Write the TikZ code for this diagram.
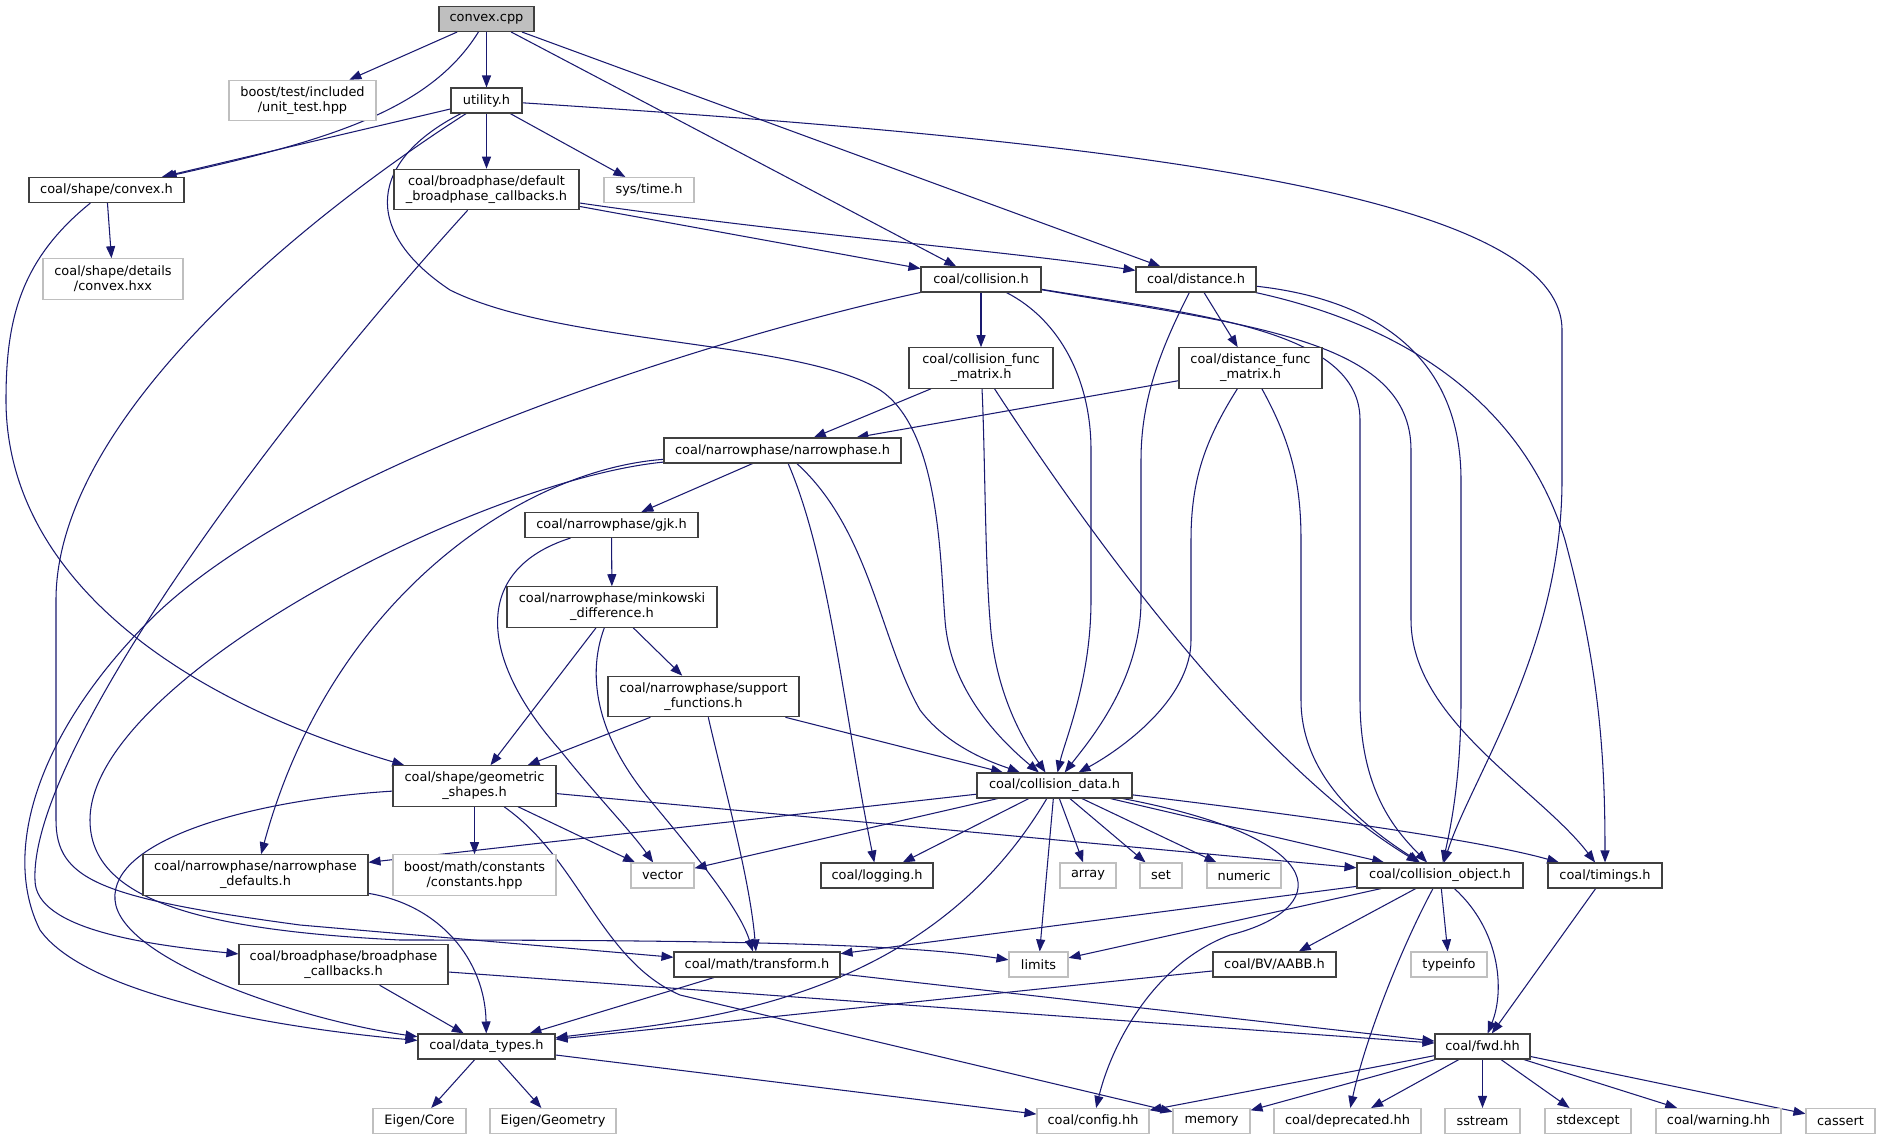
\documentclass[tikz,border=0pt]{standalone}
\usepackage{fontspec}
\setmainfont{DejaVu Sans}
\usepackage{tikz}
\usetikzlibrary{arrows.meta}
\pgfdeclarelayer{canvas}
\pgfdeclarelayer{edges}
\pgfsetlayers{canvas,edges,main}
\definecolor{edgeblue}{HTML}{191970}
\definecolor{boxline}{HTML}{404040}
\definecolor{sysline}{HTML}{BFBFBF}
\definecolor{rootfill}{HTML}{BFBFBF}
\tikzset{
  box/.style={draw=boxline, fill=white, line width=0.6pt, inner sep=0pt, align=center,
    minimum height=5mm, font=\fontsize{7.35}{8.5}\selectfont},
  sysbox/.style={box, draw=sysline},
  rootbox/.style={box, fill=rootfill},
  tall/.style={minimum height=8.1mm},
  bw/.style={minimum width=#1*0.2mm},
  dep/.style={draw=edgeblue, line width=0.6pt, ->}
}

\begin{document}
\begin{tikzpicture}[x=0.2mm, y=-0.2mm, >={Triangle[length=2.4mm,width=1.8mm]}]
\begin{pgfonlayer}{canvas}
\fill[white] (0,0) rectangle (1880,1140);
\end{pgfonlayer}
\useasboundingbox (0,0) rectangle (1880,1140);

\node[rootbox, bw=95] (cpp) at (486.5,19) {convex.cpp};
\node[sysbox, tall, bw=147] (unittest) at (302.5,100.5) {boost/test/included\\/unit\_test.hpp};
\node[box, bw=71] (utility) at (486.5,100.5) {utility.h};
\node[box, bw=155] (convexh) at (106.5,190) {coal/shape/convex.h};
\node[box, tall, bw=185] (defbpcb) at (486.5,189.5) {coal/broadphase/default\\\_broadphase\_callbacks.h};
\node[sysbox, bw=90] (systime) at (649,190) {sys/time.h};
\node[sysbox, tall, bw=140] (convexhxx) at (113,279) {coal/shape/details\\/convex.hxx};
\node[box, bw=120] (collision) at (981,279.5) {coal/collision.h};
\node[box, bw=120] (distance) at (1196,279.5) {coal/distance.h};
\node[box, tall, bw=144] (colfm) at (981,368) {coal/collision\_func\\\_matrix.h};
\node[box, tall, bw=143] (disfm) at (1250.5,368) {coal/distance\_func\\\_matrix.h};
\node[box, bw=237] (narrow) at (782.5,450.5) {coal/narrowphase/narrowphase.h};
\node[box, bw=173] (gjk) at (611.5,525) {coal/narrowphase/gjk.h};
\node[box, tall, bw=210] (mink) at (612,607) {coal/narrowphase/minkowski\\\_difference.h};
\node[box, tall, bw=191] (support) at (703.5,696.5) {coal/narrowphase/support\\\_functions.h};
\node[box, tall, bw=163] (geom) at (474.5,786) {coal/shape/geometric\\\_shapes.h};
\node[box, bw=155] (coldata) at (1054.5,785.5) {coal/collision\_data.h};
\node[box, tall, bw=225] (npdef) at (255.5,875) {coal/narrowphase/narrowphase\\\_defaults.h};
\node[sysbox, tall, bw=163] (constants) at (474.5,875) {boost/math/constants\\/constants.hpp};
\node[sysbox, bw=63] (vector) at (662.5,875.5) {vector};
\node[box, bw=112] (logging) at (877,875.5) {coal/logging.h};
\node[sysbox, bw=56] (array) at (1088,875.5) {array};
\node[sysbox, bw=42] (set) at (1161,875.5) {set};
\node[sysbox, bw=74] (numeric) at (1244,875.5) {numeric};
\node[box, bw=166] (colobj) at (1440,875.5) {coal/collision\_object.h};
\node[box, bw=114] (timings) at (1605,875.5) {coal/timings.h};
\node[box, tall, bw=209] (bpcb) at (343.5,964.5) {coal/broadphase/broadphase\\\_callbacks.h};
\node[box, bw=166] (transform) at (757,964.5) {coal/math/transform.h};
\node[sysbox, bw=59] (limits) at (1038.5,964.5) {limits};
\node[box, bw=123] (aabb) at (1274.5,964.5) {coal/BV/AABB.h};
\node[sysbox, bw=76] (typeinfo) at (1449,964.5) {typeinfo};
\node[box, bw=137] (datatypes) at (486.5,1046.5) {coal/data\_types.h};
\node[box, bw=95] (fwd) at (1482.5,1046.5) {coal/fwd.hh};
\node[sysbox, bw=93] (eigencore) at (419.5,1121) {Eigen/Core};
\node[sysbox, bw=126] (eigengeom) at (553,1121) {Eigen/Geometry};
\node[sysbox, bw=112] (config) at (1093,1121) {coal/config.hh};
\node[sysbox, bw=77] (memory) at (1211.5,1121) {memory};
\node[sysbox, bw=147] (deprecated) at (1347.5,1121) {coal/deprecated.hh};
\node[sysbox, bw=75] (sstream) at (1482.5,1121) {sstream};
\node[sysbox, bw=86] (stdexcept) at (1588,1121) {stdexcept};
\node[sysbox, bw=125] (warning) at (1718.5,1121) {coal/warning.hh};
\node[sysbox, bw=69] (cassert) at (1840.5,1121) {cassert};

\begin{pgfonlayer}{edges}
\draw[dep] (cpp) -- (unittest);
\draw[dep] (cpp) -- (utility);
\draw[dep] (cpp) .. controls (430,110) and (330,140) .. (convexh);
\draw[dep] (cpp) -- (collision);
\draw[dep] (cpp) -- (distance);
\draw[dep] (utility) -- (convexh);
\draw[dep] (utility) -- (defbpcb);
\draw[dep] (utility) -- (systime);
\draw[dep] (utility) .. controls (1100,140) and (1562,190) .. (1562,330) -- (1562,480) .. controls (1562,650) and (1470,780) .. (colobj);
\draw[dep] (utility) .. controls (370,160) and (360,230) .. (450,290) .. controls (560,345) and (800,340) .. (880,390) .. controls (940,430) and (940,560) .. (945,620) .. controls (950,690) and (1000,740) .. (coldata);
\draw[dep] (utility) .. controls (300,220) and (56,420) .. (56,600) -- (56,820) .. controls (56,880) and (100,898) .. (300,925) -- (transform);
\draw[dep] (convexh) -- (convexhxx);
\draw[dep] (convexh) .. controls (20,260) and (6,320) .. (6,400) .. controls (6,560) and (150,690) .. (geom);
\draw[dep] (defbpcb) -- (collision);
\draw[dep] (defbpcb) .. controls (800,235) and (1000,250) .. (distance);
\draw[dep] (defbpcb) .. controls (250,450) and (30,760) .. (35,880) .. controls (35,930) and (150,945) .. (bpcb);
\draw[dep] (collision) -- (colfm);
\draw[dep] (collision) .. controls (700,340) and (300,470) .. (150,620) .. controls (40,730) and (0,850) .. (40,930) .. controls (90,1000) and (300,1030) .. (datatypes);
\draw[dep] (collision) .. controls (1060,320) and (1091,380) .. (1091,450) -- (1091,600) .. controls (1091,680) and (1065,740) .. (coldata);
\draw[dep] (collision) .. controls (1200,315) and (1360,330) .. (1360,420) -- (1360,700) .. controls (1360,790) and (1395,830) .. (colobj);
\draw[dep] (collision) .. controls (1250,325) and (1411,340) .. (1411,450) -- (1411,620) .. controls (1411,720) and (1540,790) .. (timings);
\draw[dep] (distance) -- (disfm);
\draw[dep] (distance) .. controls (1160,350) and (1141,400) .. (1141,460) -- (1141,600) .. controls (1141,680) and (1090,740) .. (coldata);
\draw[dep] (distance) .. controls (1380,300) and (1461,360) .. (1461,480) -- (1461,700) .. controls (1461,780) and (1450,830) .. (colobj);
\draw[dep] (distance) .. controls (1450,335) and (1535,440) .. (1565,540) .. controls (1600,670) and (1605,760) .. (timings);
\draw[dep] (colfm) -- (narrow);
\draw[dep] (colfm) .. controls (985,450) and (985,560) .. (990,620) .. controls (995,700) and (1030,750) .. (coldata);
\draw[dep] (colfm) .. controls (1080,520) and (1250,760) .. (colobj);
\draw[dep] (disfm) -- (narrow);
\draw[dep] (disfm) .. controls (1205,440) and (1191,480) .. (1191,540) -- (1191,640) .. controls (1191,700) and (1120,750) .. (coldata);
\draw[dep] (disfm) .. controls (1290,440) and (1301,480) .. (1301,540) -- (1301,700) .. controls (1301,780) and (1370,830) .. (colobj);
\draw[dep] (narrow) -- (gjk);
\draw[dep] (narrow) .. controls (520,470) and (330,600) .. (npdef);
\draw[dep] (narrow) .. controls (480,480) and (90,680) .. (90,820) .. controls (90,900) and (200,930) .. (400,940) .. controls (700,940) and (900,943) .. (limits);
\draw[dep] (narrow) .. controls (830,560) and (845,720) .. (logging);
\draw[dep] (narrow) .. controls (870,530) and (880,640) .. (920,710) .. controls (950,750) and (1000,765) .. (coldata);
\draw[dep] (gjk) -- (mink);
\draw[dep] (gjk) .. controls (470,570) and (480,660) .. (560,750) .. controls (600,800) and (630,830) .. (vector);
\draw[dep] (mink) -- (geom);
\draw[dep] (mink) .. controls (585,680) and (600,740) .. (650,800) .. controls (700,860) and (740,910) .. (transform);
\draw[dep] (mink) -- (support);
\draw[dep] (support) -- (geom);
\draw[dep] (support) .. controls (725,790) and (750,880) .. (transform);
\draw[dep] (support) -- (coldata);
\draw[dep] (geom) .. controls (250,800) and (110,840) .. (115,900) .. controls (120,960) and (300,1020) .. (datatypes);
\draw[dep] (geom) -- (constants);
\draw[dep] (geom) -- (vector);
\draw[dep] (geom) .. controls (580,860) and (600,960) .. (680,995) -- (memory);
\draw[dep] (geom) -- (colobj);
\draw[dep] (coldata) -- (npdef);
\draw[dep] (coldata) -- (vector);
\draw[dep] (coldata) -- (logging);
\draw[dep] (coldata) .. controls (923,1008) and (688,1021) .. (datatypes);
\draw[dep] (coldata) -- (limits);
\draw[dep] (coldata) -- (array);
\draw[dep] (coldata) -- (set);
\draw[dep] (coldata) -- (numeric);
\draw[dep] (coldata) -- (colobj);
\draw[dep] (coldata) .. controls (1300,815) and (1480,840) .. (timings);
\draw[dep] (coldata) .. controls (1340,840) and (1330,910) .. (1230,935) .. controls (1150,965) and (1110,1050) .. (config);
\draw[dep] (colobj) -- (transform);
\draw[dep] (colobj) -- (limits);
\draw[dep] (colobj) -- (aabb);
\draw[dep] (colobj) -- (typeinfo);
\draw[dep] (colobj) .. controls (1400,950) and (1365,1040) .. (deprecated);
\draw[dep] (colobj) .. controls (1500,930) and (1505,990) .. (fwd);
\draw[dep] (timings) -- (fwd);
\draw[dep] (aabb) -- (datatypes);
\draw[dep] (transform) -- (datatypes);
\draw[dep] (transform) -- (fwd);
\draw[dep] (bpcb) -- (datatypes);
\draw[dep] (bpcb) -- (fwd);
\draw[dep] (npdef) .. controls (440,905) and (485,960) .. (datatypes);
\draw[dep] (datatypes) -- (eigencore);
\draw[dep] (datatypes) -- (eigengeom);
\draw[dep] (datatypes) -- (config);
\draw[dep] (fwd) -- (config);
\draw[dep] (fwd) -- (memory);
\draw[dep] (fwd) -- (deprecated);
\draw[dep] (fwd) -- (sstream);
\draw[dep] (fwd) -- (stdexcept);
\draw[dep] (fwd) -- (warning);
\draw[dep] (fwd) -- (cassert);
\end{pgfonlayer}
\end{tikzpicture}
\end{document}
